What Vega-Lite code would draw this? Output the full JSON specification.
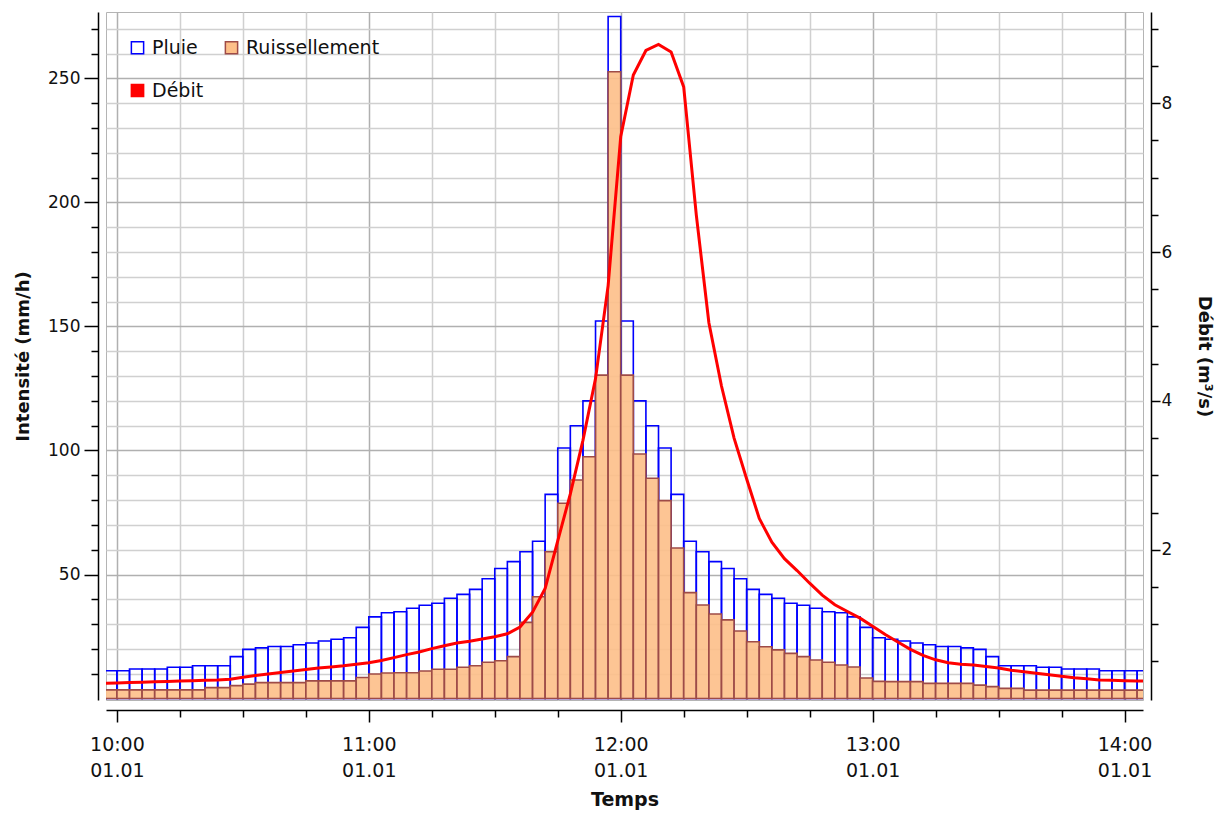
{
  "$schema": "https://vega.github.io/schema/vega-lite/v6.json",
  "autosize": "none",
  "width": 1037,
  "height": 688,
  "padding": {"left": 106, "top": 12, "right": 83, "bottom": 119},
  "background": "white",
  "config": {
    "view": {"stroke": "#b4b4b4", "strokeWidth": 1},
    "font": "DejaVu Sans",
    "axis": {"labelFont": "DejaVu Sans", "titleFont": "DejaVu Sans", "labelColor": "#111111", "titleColor": "#111111", "domainColor": "#000000", "tickColor": "#000000", "domainWidth": 1.5, "tickWidth": 1.5, "labelOverlap": false},
    "axisQuantitative": {"labelOverlap": false}
  },
  "datasets": {
    "bars": [
      {"t":"2000-01-01T09:57","t2":"2000-01-01T10:00","pluie":11.2,"ruis":3.5},
      {"t":"2000-01-01T10:00","t2":"2000-01-01T10:03","pluie":11.2,"ruis":3.5},
      {"t":"2000-01-01T10:03","t2":"2000-01-01T10:06","pluie":11.9,"ruis":3.5},
      {"t":"2000-01-01T10:06","t2":"2000-01-01T10:09","pluie":11.9,"ruis":3.5},
      {"t":"2000-01-01T10:09","t2":"2000-01-01T10:12","pluie":11.9,"ruis":3.5},
      {"t":"2000-01-01T10:12","t2":"2000-01-01T10:15","pluie":12.6,"ruis":3.5},
      {"t":"2000-01-01T10:15","t2":"2000-01-01T10:18","pluie":12.6,"ruis":3.5},
      {"t":"2000-01-01T10:18","t2":"2000-01-01T10:21","pluie":13.2,"ruis":3.5},
      {"t":"2000-01-01T10:21","t2":"2000-01-01T10:24","pluie":13.2,"ruis":4.4},
      {"t":"2000-01-01T10:24","t2":"2000-01-01T10:27","pluie":13.2,"ruis":4.4},
      {"t":"2000-01-01T10:27","t2":"2000-01-01T10:30","pluie":16.9,"ruis":5.2},
      {"t":"2000-01-01T10:30","t2":"2000-01-01T10:33","pluie":19.8,"ruis":5.8},
      {"t":"2000-01-01T10:33","t2":"2000-01-01T10:36","pluie":20.4,"ruis":6.4},
      {"t":"2000-01-01T10:36","t2":"2000-01-01T10:39","pluie":21.0,"ruis":6.4},
      {"t":"2000-01-01T10:39","t2":"2000-01-01T10:42","pluie":21.0,"ruis":6.4},
      {"t":"2000-01-01T10:42","t2":"2000-01-01T10:45","pluie":21.7,"ruis":6.4},
      {"t":"2000-01-01T10:45","t2":"2000-01-01T10:48","pluie":22.4,"ruis":7.1},
      {"t":"2000-01-01T10:48","t2":"2000-01-01T10:51","pluie":23.2,"ruis":7.1},
      {"t":"2000-01-01T10:51","t2":"2000-01-01T10:54","pluie":23.9,"ruis":7.1},
      {"t":"2000-01-01T10:54","t2":"2000-01-01T10:57","pluie":24.5,"ruis":7.1},
      {"t":"2000-01-01T10:57","t2":"2000-01-01T11:00","pluie":28.7,"ruis":8.5},
      {"t":"2000-01-01T11:00","t2":"2000-01-01T11:03","pluie":32.9,"ruis":9.9},
      {"t":"2000-01-01T11:03","t2":"2000-01-01T11:06","pluie":34.6,"ruis":10.3},
      {"t":"2000-01-01T11:06","t2":"2000-01-01T11:09","pluie":35.0,"ruis":10.4},
      {"t":"2000-01-01T11:09","t2":"2000-01-01T11:12","pluie":36.4,"ruis":10.4},
      {"t":"2000-01-01T11:12","t2":"2000-01-01T11:15","pluie":37.6,"ruis":11.1},
      {"t":"2000-01-01T11:15","t2":"2000-01-01T11:18","pluie":38.4,"ruis":11.8},
      {"t":"2000-01-01T11:18","t2":"2000-01-01T11:21","pluie":40.4,"ruis":11.8},
      {"t":"2000-01-01T11:21","t2":"2000-01-01T11:24","pluie":42.0,"ruis":12.6},
      {"t":"2000-01-01T11:24","t2":"2000-01-01T11:27","pluie":44.0,"ruis":13.2},
      {"t":"2000-01-01T11:27","t2":"2000-01-01T11:30","pluie":48.3,"ruis":14.6},
      {"t":"2000-01-01T11:30","t2":"2000-01-01T11:33","pluie":52.4,"ruis":15.2},
      {"t":"2000-01-01T11:33","t2":"2000-01-01T11:36","pluie":55.2,"ruis":16.9},
      {"t":"2000-01-01T11:36","t2":"2000-01-01T11:39","pluie":59.2,"ruis":30.7},
      {"t":"2000-01-01T11:39","t2":"2000-01-01T11:42","pluie":63.4,"ruis":41.0},
      {"t":"2000-01-01T11:42","t2":"2000-01-01T11:45","pluie":82.3,"ruis":59.2},
      {"t":"2000-01-01T11:45","t2":"2000-01-01T11:48","pluie":101.0,"ruis":78.7},
      {"t":"2000-01-01T11:48","t2":"2000-01-01T11:51","pluie":110.0,"ruis":88.1},
      {"t":"2000-01-01T11:51","t2":"2000-01-01T11:54","pluie":120.0,"ruis":97.5},
      {"t":"2000-01-01T11:54","t2":"2000-01-01T11:57","pluie":152.2,"ruis":130.4},
      {"t":"2000-01-01T11:57","t2":"2000-01-01T12:00","pluie":275.0,"ruis":252.7},
      {"t":"2000-01-01T12:00","t2":"2000-01-01T12:03","pluie":152.2,"ruis":130.4},
      {"t":"2000-01-01T12:03","t2":"2000-01-01T12:06","pluie":120.0,"ruis":98.6},
      {"t":"2000-01-01T12:06","t2":"2000-01-01T12:09","pluie":110.0,"ruis":88.8},
      {"t":"2000-01-01T12:09","t2":"2000-01-01T12:12","pluie":101.0,"ruis":79.8},
      {"t":"2000-01-01T12:12","t2":"2000-01-01T12:15","pluie":82.3,"ruis":60.7},
      {"t":"2000-01-01T12:15","t2":"2000-01-01T12:18","pluie":63.4,"ruis":42.7},
      {"t":"2000-01-01T12:18","t2":"2000-01-01T12:21","pluie":59.2,"ruis":37.7},
      {"t":"2000-01-01T12:21","t2":"2000-01-01T12:24","pluie":55.2,"ruis":34.1},
      {"t":"2000-01-01T12:24","t2":"2000-01-01T12:27","pluie":52.4,"ruis":31.7},
      {"t":"2000-01-01T12:27","t2":"2000-01-01T12:30","pluie":48.3,"ruis":27.2},
      {"t":"2000-01-01T12:30","t2":"2000-01-01T12:33","pluie":44.0,"ruis":22.9},
      {"t":"2000-01-01T12:33","t2":"2000-01-01T12:36","pluie":42.0,"ruis":20.9},
      {"t":"2000-01-01T12:36","t2":"2000-01-01T12:39","pluie":40.4,"ruis":19.6},
      {"t":"2000-01-01T12:39","t2":"2000-01-01T12:42","pluie":38.4,"ruis":18.2},
      {"t":"2000-01-01T12:42","t2":"2000-01-01T12:45","pluie":37.6,"ruis":16.9},
      {"t":"2000-01-01T12:45","t2":"2000-01-01T12:48","pluie":36.4,"ruis":15.5},
      {"t":"2000-01-01T12:48","t2":"2000-01-01T12:51","pluie":35.0,"ruis":14.6},
      {"t":"2000-01-01T12:51","t2":"2000-01-01T12:54","pluie":34.6,"ruis":13.5},
      {"t":"2000-01-01T12:54","t2":"2000-01-01T12:57","pluie":32.9,"ruis":12.7},
      {"t":"2000-01-01T12:57","t2":"2000-01-01T13:00","pluie":28.7,"ruis":8.3},
      {"t":"2000-01-01T13:00","t2":"2000-01-01T13:03","pluie":24.5,"ruis":6.9},
      {"t":"2000-01-01T13:03","t2":"2000-01-01T13:06","pluie":23.9,"ruis":6.8},
      {"t":"2000-01-01T13:06","t2":"2000-01-01T13:09","pluie":23.2,"ruis":6.8},
      {"t":"2000-01-01T13:09","t2":"2000-01-01T13:12","pluie":22.4,"ruis":6.8},
      {"t":"2000-01-01T13:12","t2":"2000-01-01T13:15","pluie":21.7,"ruis":6.1},
      {"t":"2000-01-01T13:15","t2":"2000-01-01T13:18","pluie":21.0,"ruis":6.1},
      {"t":"2000-01-01T13:18","t2":"2000-01-01T13:21","pluie":21.0,"ruis":6.1},
      {"t":"2000-01-01T13:21","t2":"2000-01-01T13:24","pluie":20.4,"ruis":6.1},
      {"t":"2000-01-01T13:24","t2":"2000-01-01T13:27","pluie":19.8,"ruis":5.4},
      {"t":"2000-01-01T13:27","t2":"2000-01-01T13:30","pluie":16.9,"ruis":4.8},
      {"t":"2000-01-01T13:30","t2":"2000-01-01T13:33","pluie":13.2,"ruis":4.1},
      {"t":"2000-01-01T13:33","t2":"2000-01-01T13:36","pluie":13.2,"ruis":4.1},
      {"t":"2000-01-01T13:36","t2":"2000-01-01T13:39","pluie":13.2,"ruis":3.4},
      {"t":"2000-01-01T13:39","t2":"2000-01-01T13:42","pluie":12.6,"ruis":3.4},
      {"t":"2000-01-01T13:42","t2":"2000-01-01T13:45","pluie":12.6,"ruis":3.4},
      {"t":"2000-01-01T13:45","t2":"2000-01-01T13:48","pluie":11.9,"ruis":3.4},
      {"t":"2000-01-01T13:48","t2":"2000-01-01T13:51","pluie":11.9,"ruis":3.4},
      {"t":"2000-01-01T13:51","t2":"2000-01-01T13:54","pluie":11.9,"ruis":3.4},
      {"t":"2000-01-01T13:54","t2":"2000-01-01T13:57","pluie":11.2,"ruis":3.4},
      {"t":"2000-01-01T13:57","t2":"2000-01-01T14:00","pluie":11.2,"ruis":3.4},
      {"t":"2000-01-01T14:00","t2":"2000-01-01T14:03","pluie":11.2,"ruis":3.4},
      {"t":"2000-01-01T14:03","t2":"2000-01-01T14:06","pluie":11.2,"ruis":3.4}
    ],
    "debit": [
      {"t":"2000-01-01T09:57","q":0.205},{"t":"2000-01-01T10:00","q":0.21},{"t":"2000-01-01T10:03","q":0.215},
      {"t":"2000-01-01T10:06","q":0.22},{"t":"2000-01-01T10:09","q":0.225},{"t":"2000-01-01T10:12","q":0.23},
      {"t":"2000-01-01T10:15","q":0.235},{"t":"2000-01-01T10:18","q":0.24},{"t":"2000-01-01T10:21","q":0.245},
      {"t":"2000-01-01T10:24","q":0.25},{"t":"2000-01-01T10:27","q":0.26},{"t":"2000-01-01T10:30","q":0.285},
      {"t":"2000-01-01T10:33","q":0.31},{"t":"2000-01-01T10:36","q":0.33},{"t":"2000-01-01T10:39","q":0.35},
      {"t":"2000-01-01T10:42","q":0.37},{"t":"2000-01-01T10:45","q":0.39},{"t":"2000-01-01T10:48","q":0.41},
      {"t":"2000-01-01T10:51","q":0.425},{"t":"2000-01-01T10:54","q":0.44},{"t":"2000-01-01T10:57","q":0.46},
      {"t":"2000-01-01T11:00","q":0.48},{"t":"2000-01-01T11:03","q":0.51},{"t":"2000-01-01T11:06","q":0.55},
      {"t":"2000-01-01T11:09","q":0.59},{"t":"2000-01-01T11:12","q":0.625},{"t":"2000-01-01T11:15","q":0.67},
      {"t":"2000-01-01T11:18","q":0.71},{"t":"2000-01-01T11:21","q":0.745},{"t":"2000-01-01T11:24","q":0.77},
      {"t":"2000-01-01T11:27","q":0.8},{"t":"2000-01-01T11:30","q":0.83},{"t":"2000-01-01T11:33","q":0.87},
      {"t":"2000-01-01T11:36","q":0.96},{"t":"2000-01-01T11:39","q":1.16},{"t":"2000-01-01T11:42","q":1.48},
      {"t":"2000-01-01T11:45","q":2.12},{"t":"2000-01-01T11:48","q":2.75},{"t":"2000-01-01T11:51","q":3.47},
      {"t":"2000-01-01T11:54","q":4.3},{"t":"2000-01-01T11:57","q":5.55},{"t":"2000-01-01T12:00","q":7.55},
      {"t":"2000-01-01T12:03","q":8.38},{"t":"2000-01-01T12:06","q":8.71},{"t":"2000-01-01T12:09","q":8.79},
      {"t":"2000-01-01T12:12","q":8.69},{"t":"2000-01-01T12:15","q":8.22},{"t":"2000-01-01T12:18","q":6.5},
      {"t":"2000-01-01T12:21","q":5.05},{"t":"2000-01-01T12:24","q":4.2},{"t":"2000-01-01T12:27","q":3.5},
      {"t":"2000-01-01T12:30","q":2.95},{"t":"2000-01-01T12:33","q":2.42},{"t":"2000-01-01T12:36","q":2.1},
      {"t":"2000-01-01T12:39","q":1.88},{"t":"2000-01-01T12:42","q":1.72},{"t":"2000-01-01T12:45","q":1.55},
      {"t":"2000-01-01T12:48","q":1.39},{"t":"2000-01-01T12:51","q":1.26},{"t":"2000-01-01T12:54","q":1.17},
      {"t":"2000-01-01T12:57","q":1.08},{"t":"2000-01-01T13:00","q":0.97},{"t":"2000-01-01T13:03","q":0.86},
      {"t":"2000-01-01T13:06","q":0.76},{"t":"2000-01-01T13:09","q":0.66},{"t":"2000-01-01T13:12","q":0.58},
      {"t":"2000-01-01T13:15","q":0.52},{"t":"2000-01-01T13:18","q":0.48},{"t":"2000-01-01T13:21","q":0.46},
      {"t":"2000-01-01T13:24","q":0.45},{"t":"2000-01-01T13:27","q":0.43},{"t":"2000-01-01T13:30","q":0.41},
      {"t":"2000-01-01T13:33","q":0.38},{"t":"2000-01-01T13:36","q":0.36},{"t":"2000-01-01T13:39","q":0.34},
      {"t":"2000-01-01T13:42","q":0.32},{"t":"2000-01-01T13:45","q":0.3},{"t":"2000-01-01T13:48","q":0.28},
      {"t":"2000-01-01T13:51","q":0.265},{"t":"2000-01-01T13:54","q":0.25},{"t":"2000-01-01T13:57","q":0.245},
      {"t":"2000-01-01T14:00","q":0.24},{"t":"2000-01-01T14:03","q":0.236},{"t":"2000-01-01T14:06","q":0.235}
    ]
  },
  "layer": [
    {
      "layer": [
        {
          "data": {"name": "bars"},
          "mark": {"type": "bar", "clip": true, "strokeWidth": 1.6},
          "encoding": {
            "x": {
              "field": "t", "type": "temporal",
              "scale": {"domain": [{"year": 2000, "month": 1, "date": 1, "hours": 9, "minutes": 57, "seconds": 24}, {"year": 2000, "month": 1, "date": 1, "hours": 14, "minutes": 4, "seconds": 24}]},
              "axis": {
                "orient": "bottom", "offset": 10,
                "values": [
                  {"year":2000,"month":1,"date":1,"hours":10,"minutes":0},{"year":2000,"month":1,"date":1,"hours":10,"minutes":15},{"year":2000,"month":1,"date":1,"hours":10,"minutes":30},{"year":2000,"month":1,"date":1,"hours":10,"minutes":45},
                  {"year":2000,"month":1,"date":1,"hours":11,"minutes":0},{"year":2000,"month":1,"date":1,"hours":11,"minutes":15},{"year":2000,"month":1,"date":1,"hours":11,"minutes":30},{"year":2000,"month":1,"date":1,"hours":11,"minutes":45},
                  {"year":2000,"month":1,"date":1,"hours":12,"minutes":0},{"year":2000,"month":1,"date":1,"hours":12,"minutes":15},{"year":2000,"month":1,"date":1,"hours":12,"minutes":30},{"year":2000,"month":1,"date":1,"hours":12,"minutes":45},
                  {"year":2000,"month":1,"date":1,"hours":13,"minutes":0},{"year":2000,"month":1,"date":1,"hours":13,"minutes":15},{"year":2000,"month":1,"date":1,"hours":13,"minutes":30},{"year":2000,"month":1,"date":1,"hours":13,"minutes":45},
                  {"year":2000,"month":1,"date":1,"hours":14,"minutes":0}
                ],
                "labelExpr": "minutes(datum.value) === 0 ? [timeFormat(datum.value, '%H:%M'), timeFormat(datum.value, '%d.%m')] : ''",
                "labelFontSize": 19, "labelLineHeight": 26, "labelPadding": 13, "labelOverlap": false,
                "tickSize": {"condition": {"test": "minutes(datum.value) === 0", "value": 12}, "value": 7},
                "grid": true,
                "gridColor": {"condition": {"test": "minutes(datum.value) === 0", "value": "#b0b0b0"}, "value": "#d0d0d0"},
                "gridWidth": 1.5,
                "title": "Temps", "titleFontSize": 19, "titleFontWeight": "bold", "titlePadding": 10
              }
            },
            "x2": {"field": "t2"},
            "y": {
              "field": "pluie", "type": "quantitative",
              "scale": {"domain": [-0.6, 276.8], "nice": false, "zero": false},
              "axis": {
                "orient": "left", "offset": 8,
                "values": [10,20,30,40,50,60,70,80,90,100,110,120,130,140,150,160,170,180,190,200,210,220,230,240,250,260,270],
                "labelExpr": "indexof([50,100,150,200,250], datum.value) >= 0 ? datum.label : ''",
                "labelFontSize": 17, "labelPadding": 4, "labelOverlap": false,
                "tickSize": {"condition": {"test": "indexof([50,100,150,200,250], datum.value) >= 0", "value": 14}, "value": 7},
                "grid": true,
                "gridColor": {"condition": {"test": "indexof([50,100,150,200,250], datum.value) >= 0", "value": "#b0b0b0"}, "value": "#d0d0d0"},
                "gridWidth": 1.5,
                "title": "Intensité (mm/h)", "titleFontSize": 18, "titleFontWeight": "bold", "titlePadding": 15
              }
            },
            "y2": {"datum": 0},
            "fill": {
              "datum": "Pluie",
              "scale": {"domain": ["Pluie", "Ruissellement", "Débit"], "range": ["transparent", "#FDBF88", "#FF0000"]},
              "legend": {"orient": "none", "legendX": 22, "legendY": 26, "columns": 2, "direction": "horizontal", "symbolType": "square", "symbolSize": 150, "symbolStrokeWidth": 1.5, "labelFont": "DejaVu Sans", "labelFontSize": 19, "labelColor": "#111111", "rowPadding": 23, "columnPadding": 18, "labelOffset": 5, "padding": 0, "title": null}
            },
            "stroke": {
              "datum": "Pluie",
              "scale": {"domain": ["Pluie", "Ruissellement", "Débit"], "range": ["#0000FF", "#9E4B47", "#FF0000"]},
              "legend": {"orient": "none", "legendX": 22, "legendY": 26, "columns": 2, "direction": "horizontal", "symbolType": "square", "symbolSize": 150, "symbolStrokeWidth": 1.5, "labelFont": "DejaVu Sans", "labelFontSize": 19, "labelColor": "#111111", "rowPadding": 23, "columnPadding": 18, "labelOffset": 5, "padding": 0, "title": null}
            }
          }
        },
        {
          "data": {"name": "bars"},
          "mark": {"type": "bar", "clip": true, "strokeWidth": 1.6, "fillOpacity": 0.9},
          "encoding": {
            "x": {"field": "t", "type": "temporal"},
            "x2": {"field": "t2"},
            "y": {
              "field": "ruis", "type": "quantitative",
              "axis": {
                "orient": "left", "offset": 8,
                "values": [10,20,30,40,50,60,70,80,90,100,110,120,130,140,150,160,170,180,190,200,210,220,230,240,250,260,270],
                "labelExpr": "indexof([50,100,150,200,250], datum.value) >= 0 ? datum.label : ''",
                "labelFontSize": 17, "labelPadding": 4, "labelOverlap": false,
                "tickSize": {"condition": {"test": "indexof([50,100,150,200,250], datum.value) >= 0", "value": 14}, "value": 7},
                "grid": true,
                "gridColor": {"condition": {"test": "indexof([50,100,150,200,250], datum.value) >= 0", "value": "#b0b0b0"}, "value": "#d0d0d0"},
                "gridWidth": 1.5,
                "title": "Intensité (mm/h)", "titleFontSize": 18, "titleFontWeight": "bold", "titlePadding": 15
              }
            },
            "y2": {"datum": 0},
            "fill": {"datum": "Ruissellement"},
            "stroke": {"datum": "Ruissellement"}
          }
        }
      ]
    },
    {
      "data": {"name": "debit"},
      "mark": {"type": "line", "clip": true, "strokeWidth": 3},
      "encoding": {
        "x": {"field": "t", "type": "temporal"},
        "y": {
          "field": "q", "type": "quantitative",
          "scale": {"domain": [-0.02, 9.227], "nice": false, "zero": false},
          "axis": {
            "orient": "right", "offset": 8,
            "values": [0.5,1,1.5,2,2.5,3,3.5,4,4.5,5,5.5,6,6.5,7,7.5,8,8.5,9],
            "format": ".0f",
            "labelExpr": "datum.value % 2 === 0 ? datum.label : ''",
            "labelFontSize": 17, "labelPadding": 1, "labelOverlap": false,
            "tickSize": {"condition": {"test": "datum.value % 2 === 0", "value": 9}, "value": 7},
            "grid": false,
            "title": "Débit (m³/s)", "titleFontSize": 18, "titleFontWeight": "bold", "titlePadding": 23
          }
        },
        "stroke": {"datum": "Débit"}
      }
    }
  ],
  "resolve": {"scale": {"y": "independent"}, "axis": {"y": "independent"}}
}
